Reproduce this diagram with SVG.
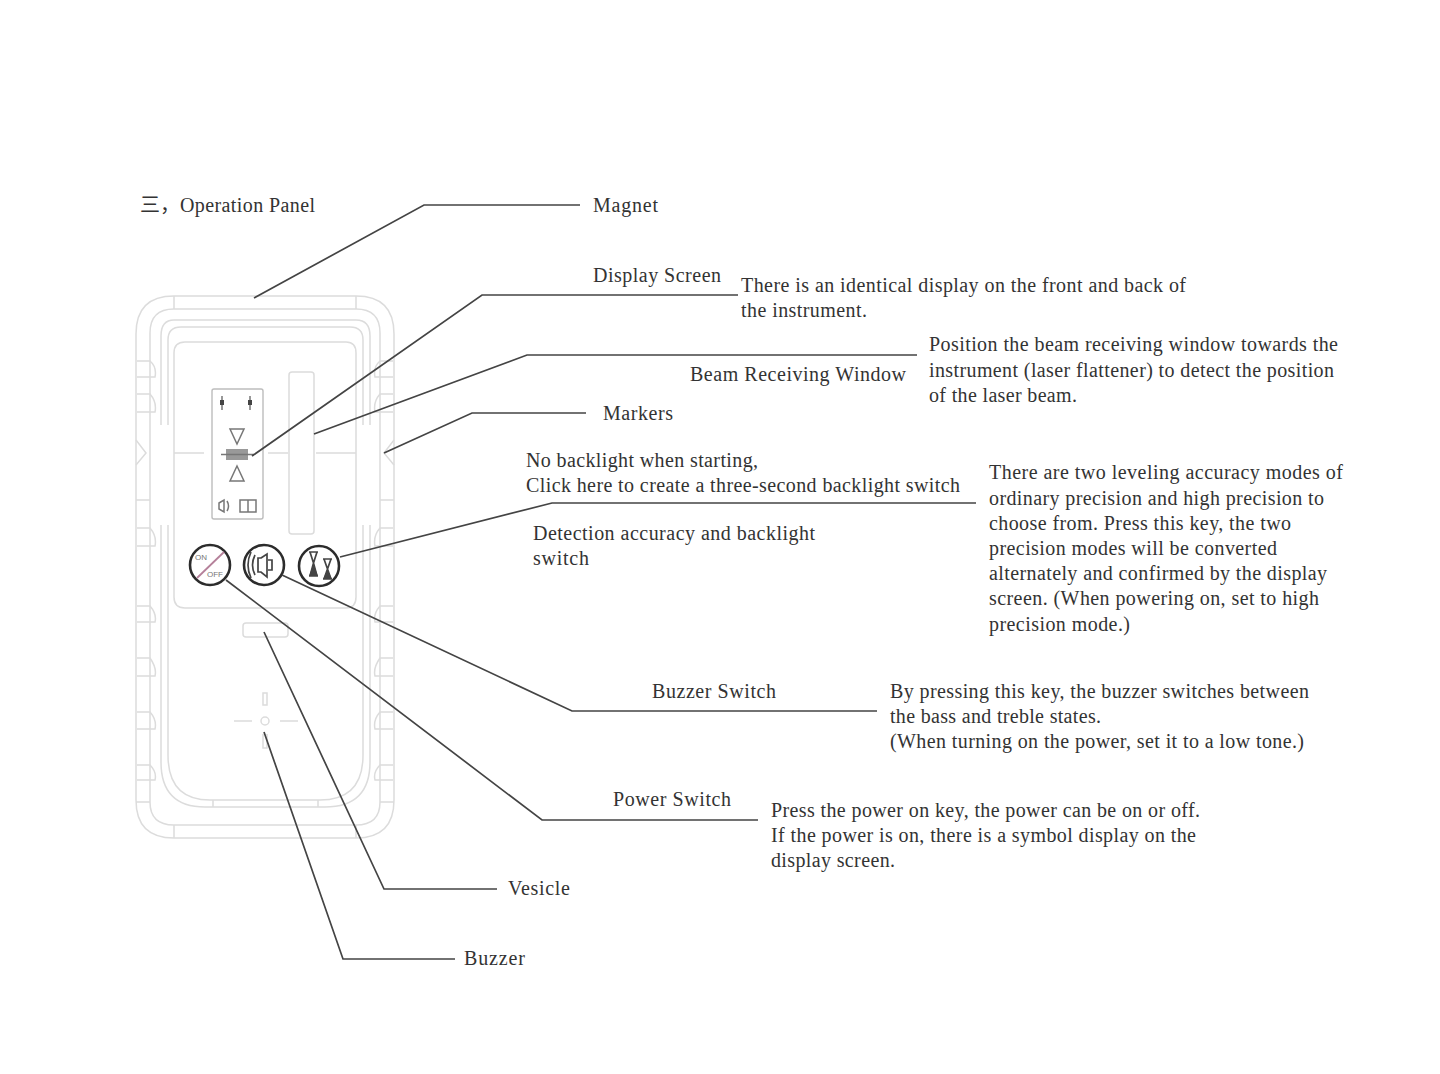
<svg xmlns="http://www.w3.org/2000/svg" width="1440" height="1074" viewBox="0 0 1440 1074">
<style>
text{font-family:"Liberation Serif","Times New Roman","Noto Sans CJK SC",serif;font-size:20px;fill:#333}
.s{font-family:"Liberation Sans",Arial,sans-serif;font-size:8px;fill:#777}
.b{fill:none;stroke:#dcdcdc;stroke-width:1.5}
.p{fill:none;stroke:#bdbdbd;stroke-width:1.4}
.d{fill:none;stroke:#777;stroke-width:1.5}
.k{fill:none;stroke:#2c2c2c;stroke-width:2.6}
.c{fill:none;stroke:#444;stroke-width:1.7}
.f{fill:#444}
</style>
<rect width="1440" height="1074" fill="#fff"/>
<g id="instrument">
<path class="b" d="M174 296H356Q394 296 394 334V800Q394 838 356 838H174Q136 838 136 800V334Q136 296 174 296Z"/>
<path class="b" d="M174 309H356Q380 309 380 333V802Q380 825 356 825H174Q150 825 150 802V333Q150 309 174 309Z"/>
<path class="b" d="M161 425V336Q161 320 174 320H356Q370 320 370 336V425M370 525V762Q370 807 325 807H205Q161 807 161 762V525"/>
<path class="b" d="M168 425V340Q168 327 181 327H350Q363 327 363 340V425M363 525V755Q363 800 320 800H210Q168 800 168 755V525"/>
<path class="b" d="M174 296V309M356 296V309M174 825V838M356 825V838M136 500H150M380 500H394M136 802H150M380 802H394M213 800V807M318 800V807"/>
<path class="b" d="M136 440L146 453L136 465M394 440L384 453L394 465"/>
<path class="b" d="M174 353Q174 342 185 342H346Q356 342 356 353V597Q356 608 346 608H185Q174 608 174 597Z"/>
<path class="b" d="M174 453H204M268 453H288M316 453H356"/>
<path class="b" d="M137 361H150Q157 367 155 377H137M137 394H150Q157 402 155 412H137M137 528H150Q157 536 155 546H137M137 606H150Q157 614 155 622H137M137 658H150Q157 668 155 676H137M137 712H150Q157 720 155 729H137M137 765H150Q157 772 155 780H137"/>
<path class="b" d="M393 361H380Q373 367 375 377H393M393 394H380Q373 402 375 412H393M393 528H380Q373 536 375 546H393M393 606H380Q373 614 375 622H393M393 658H380Q373 668 375 676H393M393 712H380Q373 720 375 729H393M393 765H380Q373 772 375 780H393"/>
</g>
<g id="display-window">
<rect class="p" x="212" y="389" width="51" height="130" rx="2"/>
<path class="d" d="M222 396V410M250 396V410"/>
<path class="f" d="M220 400h4v5h-4zM248 400h4v5h-4z"/>
<path class="d" d="M230 429H244L237 444Z"/>
<path class="d" d="M237 466L244 481H230Z"/>
<rect x="226" y="449" width="22" height="11" fill="#999"/>
<path class="d" d="M221 454.500H254"/>
<path class="d" d="M219 503L224 500V512L219 509ZM227 501Q230 506 227 511"/>
<rect class="d" x="240" y="500" width="16" height="12"/>
<path class="d" d="M248 500V512"/>
</g>
<g id="beam-window">
<rect class="b" x="289" y="372" width="25" height="162" rx="3"/>
</g>
<g id="vesicle">
<rect class="b" x="243" y="623" width="45" height="14" rx="3"/>
</g>
<g id="buzzer">
<path class="b" d="M263 693h4v12h-4zM234 721h18M280 721h18"/>
<circle class="b" cx="265" cy="721" r="4"/>
<path class="b" d="M263 734v14h4v-14"/>
</g>
<g id="power-key">
<circle class="k" cx="210" cy="565" r="20"/>
<path d="M197 578L224 552" stroke="#b5809a" stroke-width="1.800" fill="none"/>
<text class="s" x="195" y="560">ON</text>
<text class="s" x="207" y="577">OFF</text>
</g>
<g id="buzzer-key">
<circle class="k" cx="264" cy="565" r="20"/>
<path class="c" d="M261 558L267 554V577L261 572H258V558ZM268 560H272V570H268M255 555Q250 565 255 575M251 552Q245 565 251 578"/>
</g>
<g id="accuracy-key">
<circle class="k" cx="319" cy="566" r="20"/>
<path class="c" d="M309 552H318M309 576H318M323 559H332M323 579H332M310 552L313.500 563L310 576M317 552L313.500 563L317 576M324 559L327.500 569L324 579M331 559L327.500 569L331 579"/>
<path class="f" d="M313.500 564L318 576H309ZM327.500 570L332 579H323Z"/>
</g>
<g id="connectors">
<path class="c" d="M254 298L424 205H580"/>
<path class="c" d="M252 456L482 295H738"/>
<path class="c" d="M314 434L527 355H917"/>
<path class="c" d="M384 453L472 413H586"/>
<path class="c" d="M340 557L552 503H976"/>
<path class="c" d="M282 575L572 711H877"/>
<path class="c" d="M226 580L542 820H758"/>
<path class="c" d="M264 632L384 889H497"/>
<path class="c" d="M264 732L343 959H455"/>
</g>
<g id="labels">
<text x="140" y="212">三，</text>
<text x="180" y="212" textLength="135">Operation Panel</text>
<text x="593" y="212" textLength="65">Magnet</text>
<text x="593" y="282" textLength="128">Display Screen</text>
<text x="741" y="292" textLength="445">There is an identical display on the front and back of</text>
<text x="741" y="317" textLength="126">the instrument.</text>
<text x="929" y="351" textLength="409">Position the beam receiving window towards the</text>
<text x="929" y="377" textLength="405">instrument (laser flattener) to detect the position</text>
<text x="929" y="402" textLength="148">of the laser beam.</text>
<text x="690" y="381" textLength="216">Beam Receiving Window</text>
<text x="603" y="420" textLength="70">Markers</text>
<text x="526" y="467" textLength="232">No backlight when starting,</text>
<text x="526" y="492" textLength="434">Click here to create a three-second backlight switch</text>
<text x="533" y="540" textLength="282">Detection accuracy and backlight</text>
<text x="533" y="565" textLength="56">switch</text>
<text x="989" y="479" textLength="354">There are two leveling accuracy modes of</text>
<text x="989" y="505" textLength="335">ordinary precision and high precision to</text>
<text x="989" y="530" textLength="302">choose from. Press this key, the two</text>
<text x="989" y="555" textLength="288">precision modes will be converted</text>
<text x="989" y="580" textLength="338">alternately and confirmed by the display</text>
<text x="989" y="605" textLength="330">screen. (When powering on, set to high</text>
<text x="989" y="631" textLength="141">precision mode.)</text>
<text x="652" y="698" textLength="124">Buzzer Switch</text>
<text x="890" y="698" textLength="419">By pressing this key, the buzzer switches between</text>
<text x="890" y="723" textLength="211">the bass and treble states.</text>
<text x="890" y="748" textLength="414">(When turning on the power, set it to a low tone.)</text>
<text x="613" y="806" textLength="118">Power Switch</text>
<text x="771" y="817" textLength="429">Press the power on key, the power can be on or off.</text>
<text x="771" y="842" textLength="425">If the power is on, there is a symbol display on the</text>
<text x="771" y="867" textLength="124">display screen.</text>
<text x="508" y="895" textLength="62">Vesicle</text>
<text x="464" y="965" textLength="61">Buzzer</text>
</g>
</svg>
